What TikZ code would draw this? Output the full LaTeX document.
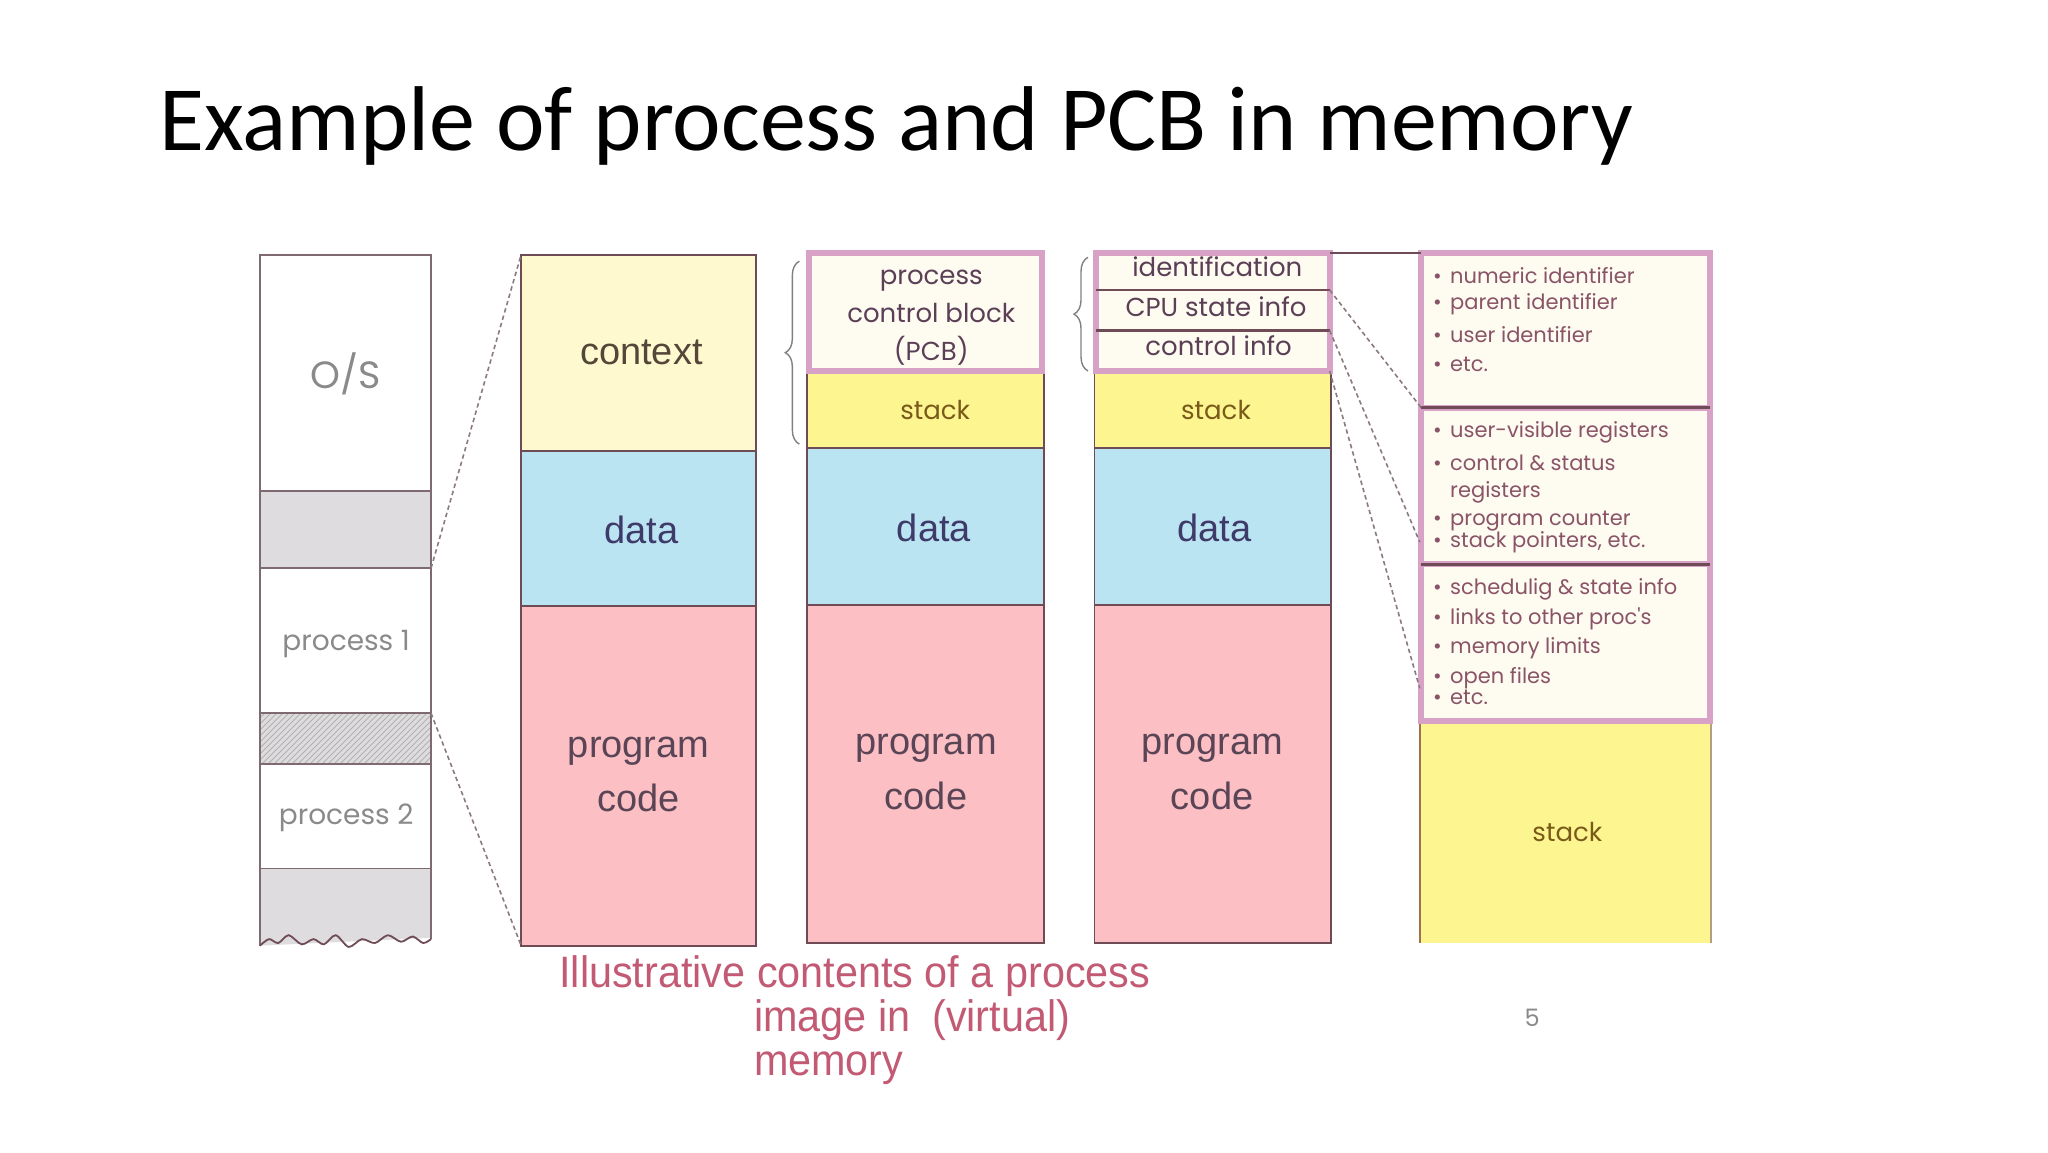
\documentclass[tikz,border=0pt]{standalone}
\usepackage{fontspec}
\setmainfont{Liberation Sans}
\newfontfamily\titlefont{Carlito}
\newfontfamily\geofont{Poppins}
\newfontfamily\capfont[FakeStretch=0.94]{Liberation Sans}
\usetikzlibrary{patterns,decorations.pathreplacing,fit}
\definecolor{outl}{HTML}{6E4B55}
\definecolor{leftl}{HTML}{7E6A70}
\definecolor{shadeg}{HTML}{DEDCDE}
\definecolor{ctxfill}{HTML}{FFF9CF}
\definecolor{datfill}{HTML}{BAE4F1}
\definecolor{codefill}{HTML}{FCBFC3}
\definecolor{stkfill}{HTML}{FDF58F}
\definecolor{pcbfill}{HTML}{FEFBF0}
\definecolor{pinkb}{HTML}{D8A2C6}
\definecolor{ctxtext}{HTML}{55463A}
\definecolor{dattext}{HTML}{3E3A6A}
\definecolor{codetext}{HTML}{5A4556}
\definecolor{stktext}{HTML}{7A5A1A}
\definecolor{pcbtext}{HTML}{5B3F56}
\definecolor{rtext}{HTML}{8A5468}
\definecolor{captext}{HTML}{C25A74}
\definecolor{graytext}{HTML}{8A8A8A}
\definecolor{dashc}{HTML}{8A7A80}
\begin{document}
\begin{tikzpicture}[x=0.65306pt,y=-0.65306pt,
  blk/.style={inner sep=0pt, outer sep=0pt, draw=outl, line width=0.9pt},
  leftblk/.style={inner sep=0pt, outer sep=0pt, draw=leftl, line width=0.9pt},
  lefttxt/.style={inner sep=0pt, text=graytext, font=\geofont\fontsize{14}{16}\selectfont},
  pinkbox/.style={inner sep=0pt, outer sep=0pt, draw=pinkb, line width=3pt, fill=pcbfill},
  bigtxt/.style={inner sep=0pt, font=\fontsize{19}{27.4}\selectfont, align=center},
  geotxt/.style={inner sep=0pt, font=\geofont\fontsize{13}{19}\selectfont, align=center, text=pcbtext},
  stktxt/.style={inner sep=0pt, font=\geofont\fontsize{13}{15}\selectfont, text=stktext},
  rline/.style={anchor=west, inner sep=0pt, text=rtext, font=\geofont\fontsize{10.5}{12}\selectfont},
  caption/.style={anchor=west, inner sep=0pt, text=captext, align=left, font=\capfont\fontsize{22}{22}\selectfont},
  dashconn/.style={draw=dashc, line width=0.8pt, dash pattern=on 2.2pt off 1.6pt},
  bracec/.style={draw=gray, line width=0.7pt, decorate, decoration={brace, amplitude=7pt}}
]
\useasboundingbox (0,0) rectangle (1568,882);

% title
\node[anchor=base west, inner sep=0pt] (title) at (122,115)
  {\titlefont\fontsize{46}{50}\selectfont Example of process and PCB in memory};

% ---------------- left column (physical memory)
\fill[shadeg] (199,376) rectangle (330,435);
\fill[shadeg] (199,546) rectangle (330,585);
\fill[pattern=north east lines, pattern color=gray!60] (199,546) rectangle (330,585);
\fill[shadeg] (199,665) -- (330,665) -- (330,718) -- (199,724) -- cycle;
\node[leftblk, fit={(199,195)(330,376)}] (os) {};
\node[leftblk, fit={(199,376)(330,435)}] (free1) {};
\node[leftblk, fit={(199,435)(330,546)}] (proc1) {};
\node[leftblk, fit={(199,546)(330,585)}] (free2) {};
\node[leftblk, fit={(199,585)(330,665)}] (proc2) {};
\draw[leftl, line width=0.9pt] (199,665) -- (199,724) (330,665) -- (330,719);
\draw[outl, line width=0.9pt] plot[smooth] coordinates {(199,724) (206,719) (213,722) (221,716) (231,723) (240,719) (248,723) (257,716) (267,725) (277,719) (287,722) (297,716) (307,721) (316,717) (324,722) (330,719)};
\node[lefttxt, font=\geofont\fontsize{19}{21}\selectfont] (ostxt) at (265,286) {O/S};
\node[lefttxt] (p1txt) at (265,493) {process 1};
\node[lefttxt] (p2txt) at (265,626) {process 2};

% ---------------- column 2
\node[blk, fill=ctxfill, fit={(399,195)(579,345)}] (ctx) {};
\node[blk, fill=datfill, fit={(399,345)(579,464)}] (dat2) {};
\node[blk, fill=codefill, fit={(399,464)(579,724)}] (code2) {};
\node[bigtxt, text=ctxtext] (ctxtxt) at (491,270) {context};
\node[bigtxt, text=dattext] (dat2txt) at (491,406) {data};
\node[bigtxt, text=codetext] (code2txt) at (489,593) {program\\code};

\draw[dashconn] (free1.south east) -- (ctx.north west);
\draw[dashconn] (free2.north east) -- (code2.south west);

% ---------------- column 3
\node[blk, fill=stkfill, fit={(618,284)(799,343)}] (stk3) {};
\node[blk, fill=datfill, fit={(618,343)(799,463)}] (dat3) {};
\node[blk, fill=codefill, fit={(618,463)(799,722)}] (code3) {};
\node[pinkbox, fit={(619,194)(798,284)}] (pcb3) {};
\node[geotxt] (pcb3txt) at (713,243) {process\\control block\\(PCB)};
\node[stktxt] (stk3txt) at (716,314) {stack};
\node[bigtxt, text=dattext] (dat3txt) at (715,404) {data};
\node[bigtxt, text=codetext] (code3txt) at (709,591) {program\\code};
\draw[bracec] (612,340) -- (612,200);

% ---------------- column 4
\node[blk, fill=stkfill, fit={(838,284)(1019,343)}] (stk4) {};
\node[blk, fill=datfill, fit={(838,343)(1019,463)}] (dat4) {};
\node[blk, fill=codefill, fit={(838,463)(1019,722)}] (code4) {};
\node[pinkbox, fit={(839,194)(1018,284)}] (pcb4) {};
\node[inner sep=0pt, outer sep=0pt, fit={(839,194)(1018,222)}] (ident) {};
\node[inner sep=0pt, outer sep=0pt, fit={(839,222)(1018,253)}] (cpu) {};
\node[inner sep=0pt, outer sep=0pt, fit={(839,253)(1018,284)}] (ctrl) {};
\draw[outl, line width=1.2pt] (ident.south west) -- (ident.south east);
\draw[outl, line width=1.2pt] (cpu.south west) -- (cpu.south east);
\node[geotxt] (identtxt) at (932,204) {identification};
\node[geotxt] (cputxt) at (931,235) {CPU state info};
\node[geotxt] (ctrltxt) at (933,265) {control info};
\node[stktxt] (stk4txt) at (931,314) {stack};
\node[bigtxt, text=dattext] (dat4txt) at (930,404) {data};
\node[bigtxt, text=codetext] (code4txt) at (928,591) {program\\code};
\draw[bracec] (833,284) -- (833,197);

% ---------------- right column (PCB detail)
\node[inner sep=0pt, outer sep=0pt, fill=stkfill, fit={(1087,552)(1310,722)}] (stk5) {};
\draw[draw={rgb,255:red,160;green,112;blue,80}, line width=1.2pt] (stk5.north west) -- (stk5.south west);
\draw[draw={rgb,255:red,176;green,160;blue,128}, line width=1.2pt] (stk5.north east) -- (stk5.south east);
\node[stktxt] (stk5txt) at (1200,637) {stack};
\node[pinkbox, fit={(1088,194)(1309,312)}] (rb1) {};
\node[pinkbox, fit={(1088,312)(1309,432)}] (rb2) {};
\node[pinkbox, fit={(1088,432)(1309,552)}] (rb3) {};
\draw[outl, line width=1.5pt] (rb1.south west) -- (rb1.south east);
\draw[outl, line width=1.5pt] (rb2.south west) -- (rb2.south east);

\node[rline] (l1) at (1097,211) {\makebox[8.5pt][l]{•}numeric identifier};
\node[rline] (l2) at (1097,233) {\makebox[8.5pt][l]{•}parent identifier};
\node[rline] (l3) at (1097,256) {\makebox[8.5pt][l]{•}user identifier};
\node[rline] (l4) at (1097,279) {\makebox[8.5pt][l]{•}etc.};
\node[rline] (l5) at (1097,331) {\makebox[8.5pt][l]{•}user-visible registers};
\node[rline] (l6) at (1097,354) {\makebox[8.5pt][l]{•}control \& status};
\node[rline] (l7) at (1097,377) {\makebox[8.5pt][l]{}registers};
\node[rline] (l8) at (1097,399) {\makebox[8.5pt][l]{•}program counter};
\node[rline] (l9) at (1097,415) {\makebox[8.5pt][l]{•}stack pointers, etc.};
\node[rline] (l10) at (1097,451) {\makebox[8.5pt][l]{•}schedulig \& state info};
\node[rline] (l11) at (1097,474) {\makebox[8.5pt][l]{•}links to other proc's};
\node[rline] (l12) at (1097,496) {\makebox[8.5pt][l]{•}memory limits};
\node[rline] (l13) at (1097,519) {\makebox[8.5pt][l]{•}open files};
\node[rline] (l14) at (1097,534) {\makebox[8.5pt][l]{•}etc.};

% connectors col4 -> detail
\coordinate (e2) at (1087,415);
\coordinate (e3) at (1087,527);
\draw[outl, line width=1pt] (pcb4.north east) -- (rb1.north west);
\draw[dashconn] (ident.south east) -- (rb1.south west);
\draw[dashconn] (cpu.south east) -- (e2);
\draw[dashconn] (ctrl.south east) -- (e3);

% caption
\node[caption] (cap) at (428,781) {Illustrative contents of a process\\
  \hspace*{97.3pt}image in\enspace(virtual)\\
  \hspace*{97.3pt}memory};

\node[text=graytext, font=\geofont\fontsize{12}{14}\selectfont] (pg) at (1173,779) {5};
\end{tikzpicture}
\end{document}
